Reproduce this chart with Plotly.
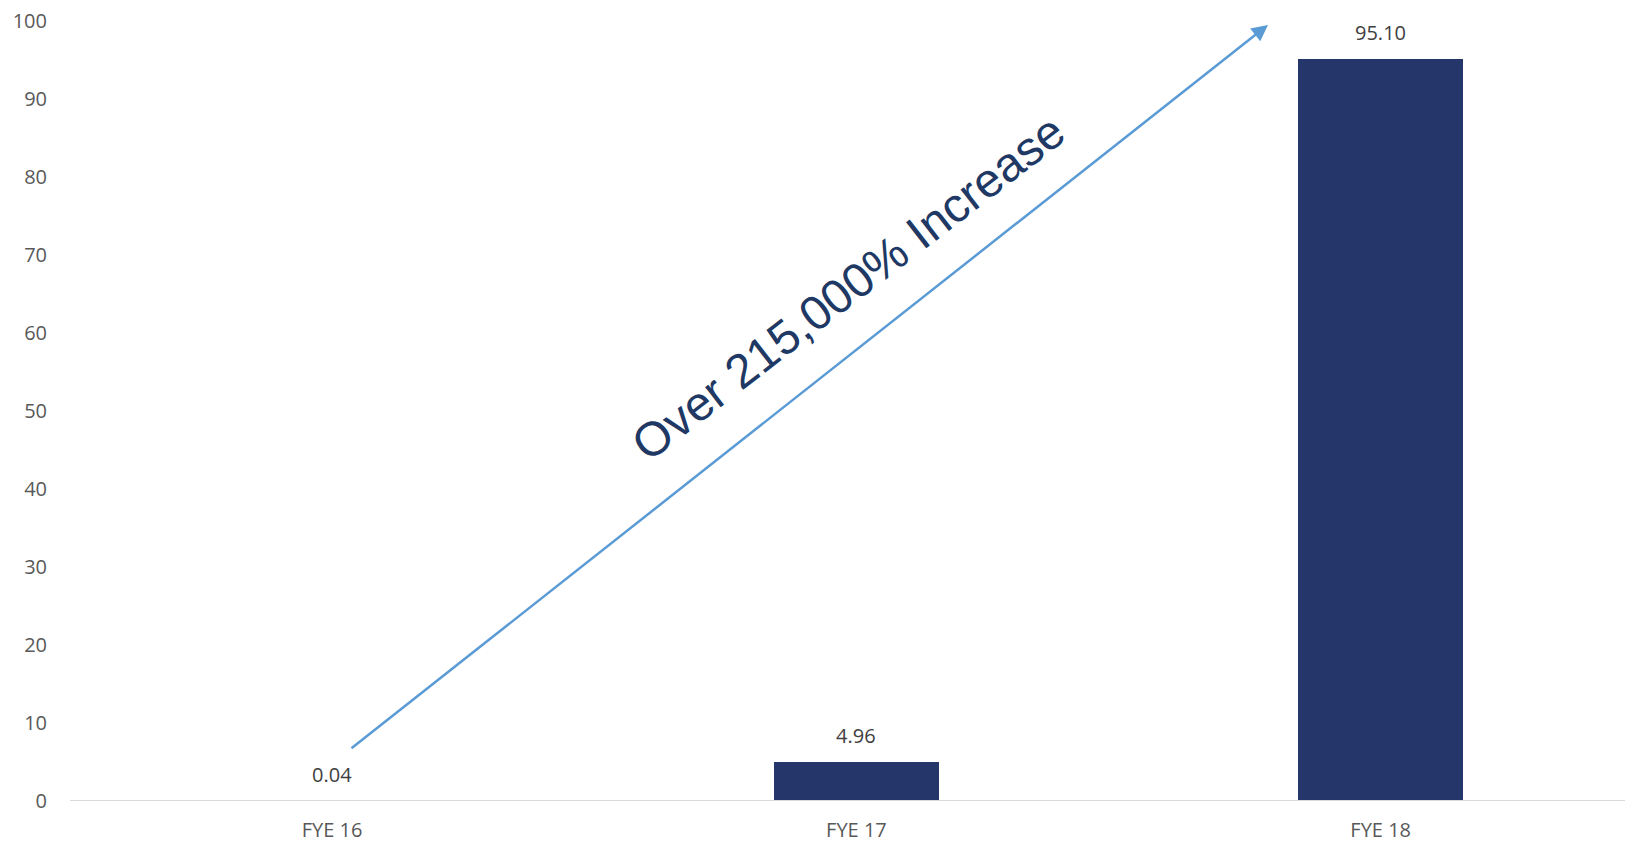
import plotly.graph_objects as go

# Fiscal-year values
categories = ["FYE 16", "FYE 17", "FYE 18"]
values = [0.04, 4.96, 95.10]
y_ticks = [0, 10, 20, 30, 40, 50, 60, 70, 80, 90, 100]

# Growth arrow endpoints (data coordinates) and caption
arrow_start = (0.034, 6.6)
arrow_end = (1.785, 99.5)
caption = "Over 215,000% Increase"
caption_pos = (0.985, 65.8)

BAR_COLOR = "#24366A"
TEXT_GREY = "#595959"
LABEL_GREY = "#404040"
AXIS_GREY = "#D9D9D9"
ARROW_BLUE = "#5B9BD5"
FONT = "Open Sans, sans-serif"

fig = go.Figure()
fig.add_trace(go.Bar(
    x=list(range(len(categories))),
    y=values,
    width=0.314,
    marker=dict(color=BAR_COLOR, line=dict(width=0)),
    hoverinfo="skip",
))

# Category baseline drawn over the bars, as in the original chart
fig.add_shape(
    type="line", xref="paper", yref="y",
    x0=0, x1=1, y0=0, y1=0,
    line=dict(color=AXIS_GREY, width=2),
    layer="above",
)

annotations = []
for i, v in enumerate(values):
    annotations.append(dict(
        x=i, y=v, xref="x", yref="y",
        text=f"{v:.2f}", showarrow=False,
        xanchor="center", yanchor="bottom", yshift=11,
        font=dict(family=FONT, size=20, color=LABEL_GREY),
    ))

annotations.append(dict(
    x=arrow_end[0], y=arrow_end[1], xref="x", yref="y",
    ax=arrow_start[0], ay=arrow_start[1], axref="x", ayref="y",
    text="", showarrow=True,
    arrowhead=2, arrowsize=1.3, arrowwidth=2.5, arrowcolor=ARROW_BLUE,
    standoff=0, startstandoff=0,
))

annotations.append(dict(
    x=caption_pos[0], y=caption_pos[1], xref="x", yref="y",
    text=caption, showarrow=False, textangle=-37.7,
    xanchor="center", yanchor="middle",
    font=dict(family="Liberation Sans, Arial, sans-serif", size=48, color="#203864"),
))

fig.update_layout(
    width=1625, height=843, autosize=False,
    margin=dict(l=70, r=0, t=21, b=42, pad=0),
    paper_bgcolor="white", plot_bgcolor="white",
    showlegend=False,
    bargap=0,
    annotations=annotations,
    xaxis=dict(
        tickmode="array",
        tickvals=list(range(len(categories))),
        ticktext=categories,
        range=[-0.5, 2.466],
        automargin=False,
        showgrid=False, zeroline=False, showline=False,
        ticks="", ticklabelstandoff=15,
        tickfont=dict(family=FONT, size=20, color=TEXT_GREY),
    ),
    yaxis=dict(
        range=[0, 100],
        tickmode="array", tickvals=y_ticks,
        automargin=False,
        showgrid=False, zeroline=False, showline=False,
        ticks="", ticklabelstandoff=22,
        tickfont=dict(family=FONT, size=20, color=TEXT_GREY),
    ),
)

fig.write_html("out.html")
